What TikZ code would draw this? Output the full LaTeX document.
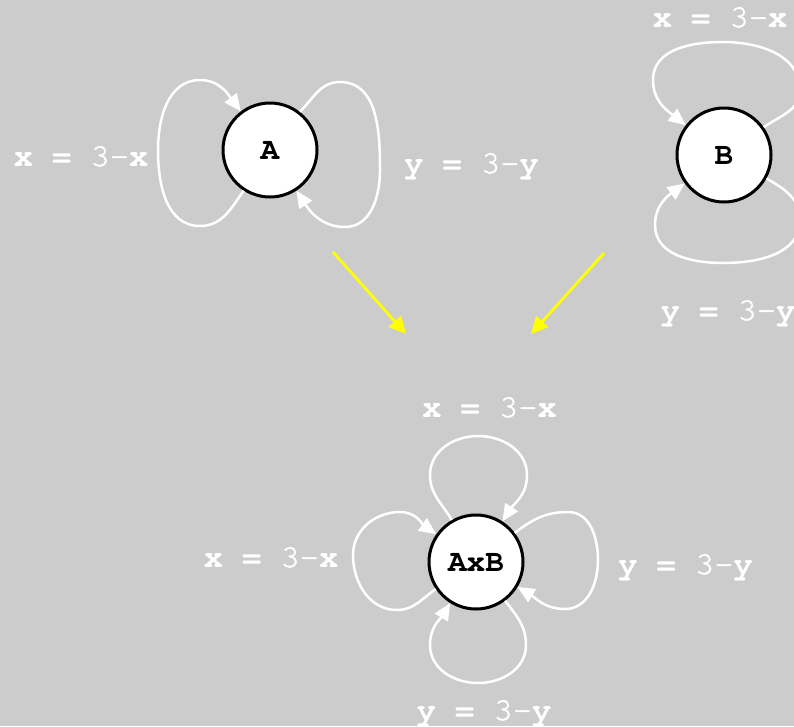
\documentclass[tikz,border=0pt]{standalone}
\usepackage{fontspec}
\usetikzlibrary{arrows.meta}
\newfontfamily\codefont{texgyrecursor}[Extension=.otf,
  UprightFont=*-regular, BoldFont=*-bold]
\newfontfamily\codemid{texgyrecursor-regular.otf}[FakeBold=1.6]
\definecolor{bgcol}{HTML}{CCCCCC}
\definecolor{mergecol}{HTML}{FFFF00}

% equation label: bold variables, lighter "3-"
\newcommand{\eqn}[1]{\textbf{#1 = }{\codemid 3-}\textbf{#1}}

\begin{document}
\begin{tikzpicture}[x=1pt,y=1pt,
  state/.style={circle, draw=black, line width=3pt, fill=white,
    minimum size=94pt, inner sep=0pt,
    font=\codefont\fontsize{31}{31}\selectfont\bfseries},
  selfloop/.style={draw=white, line width=2.5pt,
    -{Triangle[length=17pt,width=15pt]}},
  eqlabel/.style={anchor=base, text=white, inner sep=0pt,
    font=\codefont\fontsize{32}{32}\selectfont},
  merge/.style={draw=mergecol, line width=2.8pt,
    -{Triangle[length=17pt,width=16pt]}}]

\fill[bgcol] (0,0) rectangle (794,-726);
\useasboundingbox (0,0) rectangle (794,-726);
\clip (0,0) rectangle (794,-726);

% states
\node[state] (A) at (270,-150) {A};
\node[state] (B) at (724,-155) {B};
\node[state] (C) at (476,-562) {AxB};

% loops of A
\draw[selfloop] (A.237) to[out=235,in=0] (200,-226) to[out=180,in=270] (158,-150)
  to[out=90,in=180] (200,-80) to[out=0,in=127] (A.127);
\draw[selfloop] (A.52) to[out=45,in=180] (340,-82) to[out=0,in=90] (380,-170)
  to[out=270,in=0] (345,-227) to[out=180,in=-57] (A.-57);
\node[eqlabel] (la1) at (81,-166) {\eqn{x}};
\node[eqlabel] (la2) at (471.5,-173) {\eqn{y}};

% loops of B
\draw[selfloop] (B.35) to[out=35,in=270] (800,-90) to[out=90,in=0] (723,-42)
  to[out=180,in=90] (653,-80) to[out=270,in=142] (B.142);
\draw[selfloop] (B.-29) to[out=-29,in=90] (800,-220) to[out=270,in=0] (723,-263)
  to[out=180,in=270] (655,-225) to[out=90,in=216] (B.216);
\node[eqlabel] (lb1) at (720,-27) {\eqn{x}};
\node[eqlabel] (lb2) at (728,-320) {\eqn{y}};

% loops of the product
\draw[selfloop] (C.120) to[out=120,in=270] (430,-475) to[out=90,in=180] (478,-436)
  to[out=0,in=90] (527,-475) to[out=270,in=57] (C.57);
\draw[selfloop] (C.214) to[out=214,in=0] (397,-610) to[out=180,in=270] (353,-555)
  to[out=90,in=180] (400,-512) to[out=0,in=145] (C.145);
\draw[selfloop] (C.37) to[out=37,in=180] (568,-512) to[out=0,in=90] (598,-560)
  to[out=270,in=0] (565,-609) to[out=180,in=-31] (C.-31);
\draw[selfloop] (C.-53) to[out=-53,in=90] (526,-645) to[out=270,in=0] (478,-683)
  to[out=180,in=270] (430,-645) to[out=90,in=-122] (C.-122);
\node[eqlabel] (lc1) at (489.5,-417) {\eqn{x}};
\node[eqlabel] (lc2) at (484,-720) {\eqn{y}};
\node[eqlabel] (lc3) at (271,-567) {\eqn{x}};
\node[eqlabel] (lc4) at (685.5,-574) {\eqn{y}};

% merge arrows
\coordinate (mA) at (333,-252);
\coordinate (mA2) at (406,-334);
\coordinate (mB) at (604,-253);
\coordinate (mB2) at (531,-334);
\draw[merge] (mA) -- (mA2);
\draw[merge] (mB) -- (mB2);
\end{tikzpicture}
\end{document}
